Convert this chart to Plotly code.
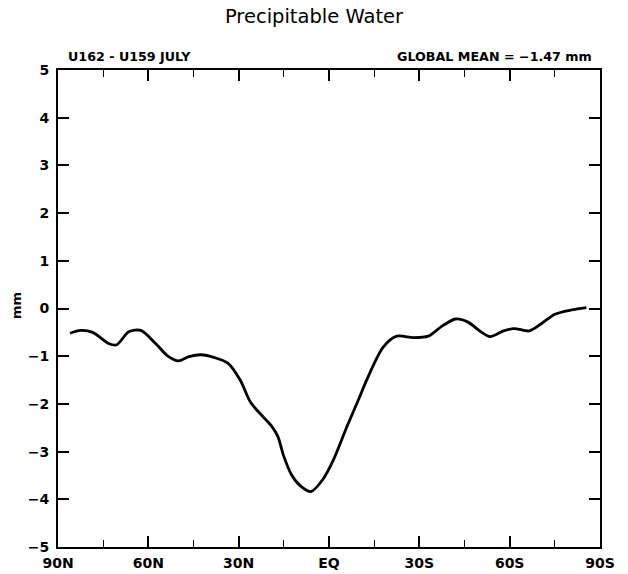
import plotly.graph_objects as go

# Zonal-mean difference of precipitable water (mm), north pole to south pole
latitude = [86, 82.5, 78.5, 73, 70.5, 66.5, 62.5, 57.5, 53.5, 50, 46.5, 42.5, 38, 33.5,
            29.5, 26, 21, 19, 17, 15, 12.5, 9.5, 6, 2, -1.5, -6, -10, -12.5, -18,
            -22.5, -28, -33, -37.5, -42, -46, -50.5, -53.5, -58, -61.5, -66.5, -70.5,
            -75, -80.5, -85.5]
pw_diff = [-0.52, -0.46, -0.50, -0.74, -0.76, -0.49, -0.46, -0.74, -1.00, -1.10, -1.01,
           -0.97, -1.03, -1.15, -1.50, -1.97, -2.33, -2.47, -2.68, -3.10, -3.48, -3.72,
           -3.84, -3.58, -3.17, -2.47, -1.88, -1.50, -0.81, -0.58, -0.61, -0.58, -0.37,
           -0.22, -0.28, -0.49, -0.59, -0.47, -0.42, -0.47, -0.32, -0.12, -0.03, 0.02]

lat_ticks = [90, 60, 30, 0, -30, -60, -90]
lat_labels = ["90N", "60N", "30N", "EQ", "30S", "60S", "90S"]
lat_minor = [75, 45, 15, -15, -45, -75]
y_ticks = [5, 4, 3, 2, 1, 0, -1, -2, -3, -4, -5]
y_labels = [str(v) if v >= 0 else "\u2212" + str(-v) for v in y_ticks]

font_main = "DejaVu Sans, Verdana, sans-serif"

# plot-area geometry in pixels
W, H = 628, 574
L, R, T, B = 58, 28, 70, 27
PW, PH = W - L - R, H - T - B

fig = go.Figure()
fig.add_trace(go.Scatter(
    x=latitude, y=pw_diff, mode="lines",
    line=dict(color="black", width=2.8, shape="spline", smoothing=0.8),
    showlegend=False, hoverinfo="skip",
))

axis_common = dict(
    showline=True, linewidth=2, linecolor="black", mirror="allticks",
    ticks="inside", tickcolor="black", tickwidth=1.6, ticklen=11,
    showgrid=False, zeroline=False, automargin=False,
    tickfont=dict(family=font_main, size=14, color="black", weight="bold"),
)

fig.update_xaxes(
    range=[90, -90], tickvals=lat_ticks, ticktext=lat_labels,
    ticklabelstandoff=2,
    minor=dict(tickvals=lat_minor, ticks="inside",
               ticklen=7, tickwidth=1.4, tickcolor="black"),
    **axis_common,
)
fig.update_yaxes(
    range=[-5, 5], tickvals=y_ticks, ticktext=y_labels,
    ticklabelstandoff=4,
    **axis_common,
)

fig.update_layout(
    width=W, height=H,
    margin=dict(l=L, r=R, t=T, b=B),
    paper_bgcolor="white", plot_bgcolor="white",
    title=dict(text="Precipitable Water", x=0.5, xref="container", xanchor="center",
               y=1 - 16 / H, yref="container", yanchor="middle",
               font=dict(family=font_main, size=19.5, color="black")),
    annotations=[
        dict(text="U162 - U159 JULY", xref="paper", yref="paper",
             x=(66 - L) / PW, y=1 + (T - 56.5) / PH, xanchor="left", yanchor="middle",
             showarrow=False,
             font=dict(family=font_main, size=12.7, color="black", weight="bold")),
        dict(text="GLOBAL MEAN = \u22121.47 mm", xref="paper", yref="paper",
             x=(594 - L) / PW, y=1 + (T - 56.5) / PH, xanchor="right", yanchor="middle",
             showarrow=False,
             font=dict(family=font_main, size=12.7, color="black", weight="bold")),
        dict(text="mm", xref="paper", yref="paper",
             x=(16 - L) / PW, y=(H - B - 306) / PH, xanchor="center", yanchor="middle",
             textangle=-90, showarrow=False,
             font=dict(family=font_main, size=13, color="black", weight="bold")),
    ],
)

fig.write_html("out.html")
